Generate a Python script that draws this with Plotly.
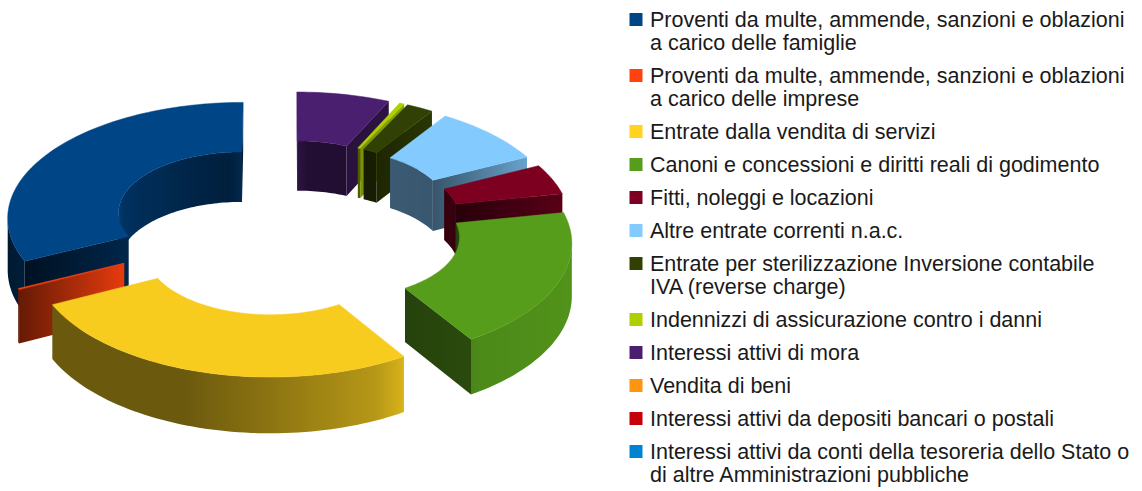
import numpy as np
import plotly.graph_objects as go

labels = [
    "Proventi da multe, ammende, sanzioni e oblazioni<br>a carico delle famiglie",
    "Proventi da multe, ammende, sanzioni e oblazioni<br>a carico delle imprese",
    "Entrate dalla vendita di servizi",
    "Canoni e concessioni e diritti reali di godimento",
    "Fitti, noleggi e locazioni",
    "Altre entrate correnti n.a.c.",
    "Entrate per sterilizzazione Inversione contabile<br>IVA (reverse charge)",
    "Indennizzi di assicurazione contro i danni",
    "Interessi attivi di mora",
    "Vendita di beni",
    "Interessi attivi da depositi bancari o postali",
    "Interessi attivi da conti della tesoreria dello Stato o<br>di altre Amministrazioni pubbliche",
]
values = [32.2, 0.15, 26.6, 19.1, 4.3, 8.4, 2.0, 0.35, 6.9, 0, 0, 0]
colors = ["#004586", "#ff420e", "#ffd320", "#579d1c", "#7e0021", "#83caff",
          "#314004", "#aecf00", "#4b1f6f", "#ff950e", "#c5000b", "#0084d1"]
top_colors = ["#004586", "#ff420e", "#f8cc1f", "#579d1c", "#7e0021", "#83caff",
              "#314004", "#aecf00", "#4b1f6f", "#ff950e", "#c5000b", "#0084d1"]
cut_shade = [(.25, .55), (.4, .9), (.5, .5), (.42, .48), (.32, .7), (.42, .8),
             (.6, .85), (.7, .8), (.55, .6), (.5, .5), (.5, .5), (.5, .5)]

CX, CY, R, RATIO, E, K, D, H = 286, 224, 234, 0.525, 54, 0.495, 3800, 52
ro, ri = R, R * RATIO


def proj(x, y, low=False):
    s = D / (D + y)
    return CX + x * s, CY - K * y * s + (H * s if low else 0)


def outer_shade(t):
    t = t % 360
    return float(np.interp(t, [0, 30, 170, 185, 206, 250, 270, 295, 304, 330, 360],
                           [.94, .92, .4, .35, .42, .42, .55, .72, .88, .92, .94]))


def inner_shade(t):
    t = t % 360
    return float(np.interp(t, [0, 60, 85, 90, 96, 130, 165, 180, 360],
                           [.42, .45, .45, .6, .45, .6, .72, .9, .42]))


def rgb(col, f):
    c = [int(col[i:i + 2], 16) for i in (1, 3, 5)]
    return "rgb(%d,%d,%d)" % tuple(min(255, round(v * f)) for v in c)


def area(pts):
    a = 0
    for i in range(len(pts)):
        x0, y0 = pts[i]
        x1, y1 = pts[(i + 1) % len(pts)]
        a += x0 * y1 - x1 * y0
    return a


fig = go.Figure()


def poly(pts, color):
    xs = [p[0] for p in pts] + [pts[0][0]]
    ys = [p[1] for p in pts] + [pts[0][1]]
    fig.add_trace(go.Scatter(x=xs, y=ys, mode="lines", fill="toself", fillcolor=color,
                             line=dict(color=color, width=0.5, simplify=False),
                             hoverinfo="skip", showlegend=False))


def grad_poly(pts, stops):
    """stops: (x position, colour) pairs; the fill runs horizontally through them."""
    xs = [p[0] for p in pts] + [pts[0][0]]
    ys = [p[1] for p in pts] + [pts[0][1]]
    stops = sorted(stops, key=lambda s: s[0])
    x0, x1 = stops[0][0], stops[-1][0]
    scale, last = [], -1
    for x, c in stops:
        u = (x - x0) / max(x1 - x0, 1e-6)
        if u > last:
            scale.append([float(u), c])
            last = u
    scale[-1][0] = 1.0
    fig.add_trace(go.Scatter(x=xs, y=ys, mode="lines", fill="toself",
                             fillgradient=dict(type="horizontal", colorscale=scale,
                                               start=x0, stop=x1),
                             line=dict(width=0, simplify=False),
                             hoverinfo="skip", showlegend=False))


def wall(ang, rad, outward, col, shade, p):
    run = []
    for a, b in zip(ang[:-1], ang[1:]):
        q = [p(rad, a), p(rad, b), p(rad, b, True), p(rad, a, True)]
        if not outward:
            q = [p(rad, b), p(rad, a), p(rad, a, True), p(rad, b, True)]
        if area(q) > 0:
            run += [a, b] if not run else [b]
    if len(run) < 2:
        return
    pts = [p(rad, a) for a in run] + [p(rad, a, True) for a in run[::-1]]
    grad_poly(pts, [(p(rad, a)[0], rgb(col, shade(a))) for a in run])


total = sum(values)
slices = []
a0 = 90.0
for i, v in enumerate(values):
    a1 = a0 + 360 * v / total
    if v > 0:
        slices.append((i, a0, a1))
    a0 = a1


def depth(s):
    mid = np.radians((s[1] + s[2]) / 2)
    return -np.sin(mid) * (E + (ro + ri) / 2)


for i, t0, t1 in sorted(slices, key=depth):
    mid = np.radians((t0 + t1) / 2)
    ox, oy = E * np.cos(mid), E * np.sin(mid)
    col = colors[i]

    def p(rad, deg, low=False):
        a = np.radians(deg)
        return proj(ox + rad * np.cos(a), oy + rad * np.sin(a), low)

    n = max(3, int((t1 - t0) / 1.5) + 1)
    ang = np.linspace(t0, t1, n)
    wall(ang, ri, False, col, inner_shade, p)
    for deg, order in ((t0, (ri, ro)), (t1, (ro, ri))):
        q = [p(order[0], deg), p(order[1], deg), p(order[1], deg, True), p(order[0], deg, True)]
        if area(q) > 0:
            fl, fr = cut_shade[i]
            left, right = sorted((q[0][0], q[1][0]))
            grad_poly(q, [(left, rgb(col, fl)), (right, rgb(col, fr))])
    wall(ang, ro, True, col, outer_shade, p)
    top = [p(ro, a) for a in ang] + [p(ri, a) for a in ang[::-1]]
    poly(top, top_colors[i])

# legend
line_gap, row_gap, y = 23, 33, 20
mx, my, mc = [], [], []
for lab, col in zip(labels, colors):
    mx.append(636)
    my.append(y - 0.5)
    mc.append(col)
    for j, part in enumerate(lab.split("<br>")):
        fig.add_annotation(x=650, y=y + j * line_gap, xref="x", yref="y", text=part, showarrow=False,
                           xanchor="left", yanchor="middle", align="left", borderpad=0, borderwidth=0,
                           font=dict(family="Liberation Sans", size=21.5, color="#1a1a1a"))
    y += row_gap + line_gap * lab.count("<br>")
fig.add_trace(go.Scatter(x=mx, y=my, mode="markers", showlegend=False, hoverinfo="skip",
                         marker=dict(symbol="square", size=13, color=mc, line=dict(width=0))))

fig.update_layout(width=1142, height=491, margin=dict(l=0, r=0, t=0, b=0),
                  paper_bgcolor="white", plot_bgcolor="white", showlegend=False,
                  xaxis=dict(range=[0, 1142], visible=False, fixedrange=True),
                  yaxis=dict(range=[491, 0], visible=False, fixedrange=True))
fig.write_html("out.html", config={"displayModeBar": False},
               post_script="document.body.style.margin='0';document.documentElement.style.overflow='hidden';")
